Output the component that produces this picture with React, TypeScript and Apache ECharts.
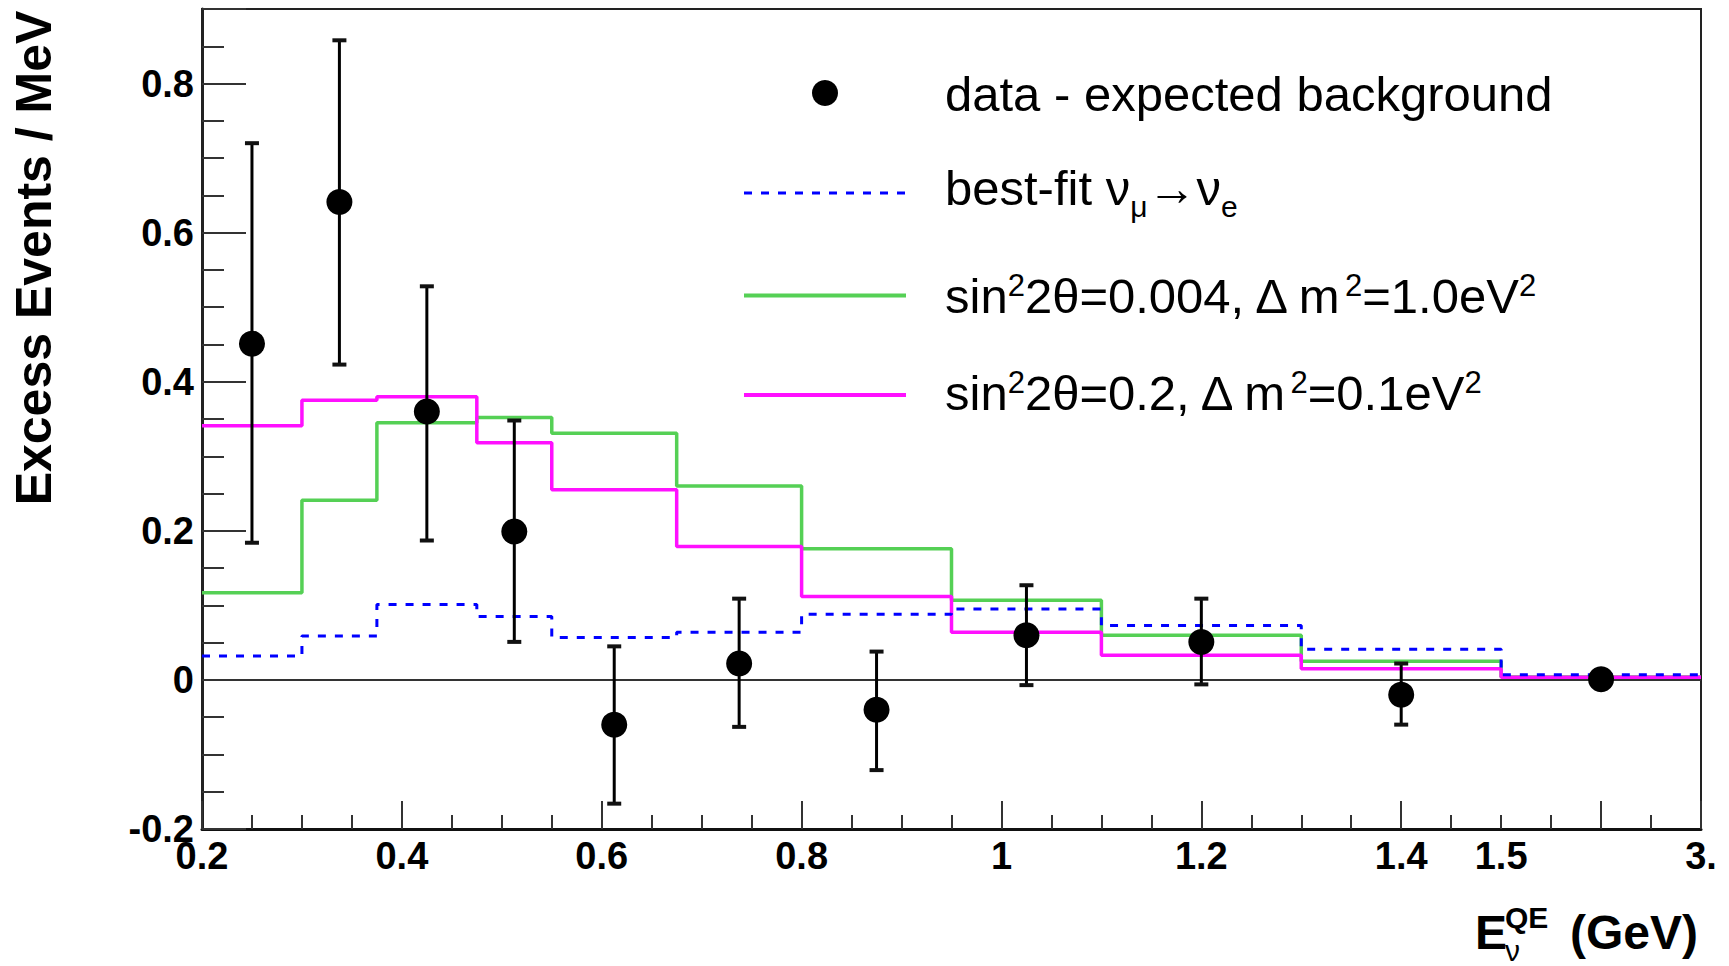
import React, { useEffect, useRef } from "react";
import * as echarts from "echarts";

// ---------- data (energies in GeV, values in Excess Events / MeV) ----------
const binEdgesGeV = [0.2, 0.3, 0.375, 0.475, 0.55, 0.675, 0.8, 0.95, 1.1, 1.3, 1.5, 3.0];
const bestFitValues = [0.032, 0.059, 0.101, 0.085, 0.057, 0.064, 0.088, 0.095, 0.073, 0.041, 0.007];
const lowDm2Values = [0.117, 0.241, 0.345, 0.352, 0.331, 0.26, 0.176, 0.107, 0.06, 0.025, 0.004];
const highMixValues = [0.341, 0.375, 0.38, 0.318, 0.255, 0.179, 0.112, 0.064, 0.033, 0.015, 0.0035];

const pointEnergyGeV = [0.25, 0.3375, 0.425, 0.5125, 0.6125, 0.7375, 0.875, 1.025, 1.2, 1.4, 2.25];
const pointValues = [0.451, 0.641, 0.36, 0.199, -0.06, 0.022, -0.04, 0.06, 0.051, -0.02, 0.001];
const errLow = [0.184, 0.423, 0.187, 0.051, -0.166, -0.063, -0.121, -0.007, -0.006, -0.06, -0.004];
const errHigh = [0.72, 0.858, 0.528, 0.348, 0.045, 0.109, 0.038, 0.127, 0.109, 0.022, 0.006];

const xTickGeV = [0.2, 0.4, 0.6, 0.8, 1.0, 1.2, 1.4, 1.5, 3.0];
const xTickText = ["0.2", "0.4", "0.6", "0.8", "1", "1.2", "1.4", "1.5", "3."];

// axis scale: linear up to 1.5 GeV, the 1.5-3.0 GeV bin compressed
const AXIS_BREAK = 1.5;
const TAIL_SCALE = 0.2 / 1.5;
const toAxis = (g: number) => (g <= AXIS_BREAK ? g : AXIS_BREAK + (g - AXIS_BREAK) * TAIL_SCALE);

const FONT = "Liberation Sans";

const stepData = (vals: number[]) =>
  binEdgesGeV.map((e, i) => [toAxis(e), vals[Math.min(i, vals.length - 1)]]);

export default function App() {
  const ref = useRef<HTMLDivElement>(null);

  useEffect(() => {
    if (!ref.current) return;
    const chart = echarts.init(ref.current, undefined, { renderer: "svg" });
    const tickLine = { color: "#333", width: 2 };

    const option: any = {
      animation: false,
      textStyle: { fontFamily: FONT },
      grid: {
        left: 202,
        top: 9,
        right: 28,
        bottom: 137,
        show: true,
        borderColor: "#222",
        borderWidth: 2,
        backgroundColor: "transparent",
      },
      xAxis: [
        {
          type: "value",
          position: "bottom",
          min: toAxis(binEdgesGeV[0]),
          max: toAxis(binEdgesGeV[binEdgesGeV.length - 1]),
          interval: 0.2,
          axisLine: { show: true, onZero: false, lineStyle: { color: "#111", width: 3 } },
          axisTick: { show: true, inside: true, length: 28, lineStyle: tickLine },
          axisLabel: { show: false },
          splitLine: { show: false },
        },
        {
          type: "value",
          position: "bottom",
          min: toAxis(binEdgesGeV[0]),
          max: toAxis(binEdgesGeV[binEdgesGeV.length - 1]),
          interval: 0.05,
          axisLine: { show: false, onZero: false },
          axisTick: { show: true, inside: true, length: 14, lineStyle: tickLine },
          axisLabel: {
            show: true,
            margin: 8,
            fontFamily: FONT,
            fontSize: 38,
            fontWeight: "bold",
            color: "#000",
            formatter: (v: number) => {
              const i = xTickGeV.findIndex((g) => Math.abs(toAxis(g) - v) < 1e-6);
              return i >= 0 ? xTickText[i] : "";
            },
          },
          splitLine: { show: false },
        },
      ],
      yAxis: [
        {
          type: "value",
          position: "left",
          min: -0.2,
          max: 0.9,
          interval: 0.2,
          axisLine: { show: true, onZero: false, lineStyle: { color: "#222", width: 3 } },
          axisTick: { show: true, inside: true, length: 44, lineStyle: tickLine },
          axisLabel: {
            show: true,
            margin: 8,
            fontFamily: FONT,
            fontSize: 38,
            fontWeight: "bold",
            color: "#000",
            formatter: (v: number) => (v > 0.85 ? "" : String(Number(v.toFixed(2)))),
          },
          splitLine: { show: false },
        },
        {
          type: "value",
          position: "left",
          min: -0.2,
          max: 0.9,
          interval: 0.05,
          axisLine: { show: false, onZero: false },
          axisTick: { show: true, inside: true, length: 22, lineStyle: tickLine },
          axisLabel: { show: false },
          splitLine: { show: false },
        },
      ],
      series: [
        {
          name: "sin²2θ=0.004, Δ m²=1.0eV²",
          type: "line",
          step: "end",
          symbol: "none",
          data: stepData(lowDm2Values),
          lineStyle: { color: "#55d055", width: 3.5 },
          z: 2,
          markLine: {
            silent: true,
            symbol: ["none", "none"],
            label: { show: false },
            lineStyle: { color: "#333", width: 2, type: "solid" },
            data: [{ yAxis: 0 }],
          },
        },
        {
          name: "sin²2θ=0.2, Δ m²=0.1eV²",
          type: "line",
          step: "end",
          symbol: "none",
          data: stepData(highMixValues),
          lineStyle: { color: "#ff10ff", width: 3.5 },
          z: 3,
        },
        {
          name: "best-fit νμ→νe",
          type: "line",
          step: "end",
          symbol: "none",
          data: stepData(bestFitValues),
          lineStyle: { color: "#0000ff", width: 3, type: [8, 9] },
          z: 4,
        },
        {
          name: "errors",
          type: "custom",
          z: 5,
          data: pointEnergyGeV.map((g, i) => [toAxis(g), errLow[i], errHigh[i]]),
          encode: { x: 0, y: [1, 2] },
          renderItem: (params: any, api: any) => {
            const x = api.value(0);
            const pLo = api.coord([x, api.value(1)]);
            const pHi = api.coord([x, api.value(2)]);
            const cap = 7;
            return {
              type: "group",
              children: [
                {
                  type: "line",
                  shape: { x1: pLo[0], y1: pLo[1], x2: pHi[0], y2: pHi[1] },
                  style: { stroke: "#000", lineWidth: 3 },
                },
                {
                  type: "line",
                  shape: { x1: pLo[0] - cap, y1: pLo[1], x2: pLo[0] + cap, y2: pLo[1] },
                  style: { stroke: "#111", lineWidth: 4 },
                },
                {
                  type: "line",
                  shape: { x1: pHi[0] - cap, y1: pHi[1], x2: pHi[0] + cap, y2: pHi[1] },
                  style: { stroke: "#111", lineWidth: 4 },
                },
              ],
            };
          },
        },
        {
          name: "data - expected background",
          type: "scatter",
          z: 6,
          symbol: "circle",
          symbolSize: 26,
          itemStyle: { color: "#000", opacity: 1 },
          data: pointEnergyGeV.map((g, i) => [toAxis(g), pointValues[i]]),
        },
      ],
      graphic: [
        // y-axis title
        {
          type: "text",
          x: 34,
          y: 258,
          rotation: Math.PI / 2,
          style: {
            text: "Excess Events / MeV",
            fontFamily: FONT,
            fontSize: 50,
            fontWeight: "bold",
            fill: "#000",
            align: "center",
            verticalAlign: "middle",
            textAlign: "center",
            textVerticalAlign: "middle",
          },
        },
        // x-axis title
        {
          type: "text",
          x: 1475,
          y: 932,
          style: {
            text: "E",
            fontFamily: FONT,
            fontSize: 48,
            fontWeight: "bold",
            fill: "#000",
            align: "left",
            verticalAlign: "middle",
            textAlign: "left",
            textVerticalAlign: "middle",
          },
        },
        {
          type: "text",
          x: 1505,
          y: 917,
          style: {
            text: "QE",
            fontFamily: FONT,
            fontSize: 30,
            fontWeight: "bold",
            fill: "#000",
            align: "left",
            verticalAlign: "middle",
            textAlign: "left",
            textVerticalAlign: "middle",
          },
        },
        {
          type: "text",
          x: 1505,
          y: 950,
          style: {
            text: "ν",
            fontFamily: FONT,
            fontSize: 30,
            fill: "#000",
            align: "left",
            verticalAlign: "middle",
            textAlign: "left",
            textVerticalAlign: "middle",
          },
        },
        {
          type: "text",
          x: 1698,
          y: 932,
          style: {
            text: "(GeV)",
            fontFamily: FONT,
            fontSize: 48,
            fontWeight: "bold",
            fill: "#000",
            align: "right",
            verticalAlign: "middle",
            textAlign: "right",
            textVerticalAlign: "middle",
          },
        },
        // legend
        { type: "circle", shape: { cx: 825, cy: 93, r: 13 }, style: { fill: "#000" } },
        {
          type: "line",
          shape: { x1: 744, y1: 193, x2: 906, y2: 193 },
          style: { stroke: "#0000ff", lineWidth: 3, lineDash: [8, 9] },
        },
        {
          type: "line",
          shape: { x1: 744, y1: 295.5, x2: 906, y2: 295.5 },
          style: { stroke: "#55d055", lineWidth: 4 },
        },
        {
          type: "line",
          shape: { x1: 744, y1: 395, x2: 906, y2: 395 },
          style: { stroke: "#ff10ff", lineWidth: 4 },
        },
        {
          type: "text",
          x: 945,
          y: 94,
          style: {
            text: "data - expected background",
            fontFamily: FONT,
            fontSize: 49,
            fill: "#000",
            align: "left",
            verticalAlign: "middle",
            textAlign: "left",
            textVerticalAlign: "middle",
          },
        },
        {
          type: "text",
          x: 945,
          y: 188,
          style: {
            text: "{m|best-fit ν}{s|μ}{m|→ν}{s|e}",
            fill: "#000",
            align: "left",
            verticalAlign: "middle",
            textAlign: "left",
            textVerticalAlign: "middle",
            rich: {
              m: { fontFamily: FONT, fontSize: 49, lineHeight: 66, fill: "#000" },
              s: { fontFamily: FONT, fontSize: 30, fill: "#000", verticalAlign: "bottom" },
            },
          },
        },
        {
          type: "text",
          x: 945,
          y: 296,
          style: {
            text: "{m|sin}{p|2}{m|2θ=0.004, Δ m}{p|2}{m|=1.0eV}{p|2}",
            fill: "#000",
            align: "left",
            verticalAlign: "middle",
            textAlign: "left",
            textVerticalAlign: "middle",
            rich: {
              m: { fontFamily: FONT, fontSize: 49, lineHeight: 52, fill: "#000" },
              p: { fontFamily: FONT, fontSize: 31, fill: "#000", verticalAlign: "top" },
            },
          },
        },
        {
          type: "text",
          x: 945,
          y: 393,
          style: {
            text: "{m|sin}{p|2}{m|2θ=0.2, Δ m}{p|2}{m|=0.1eV}{p|2}",
            fill: "#000",
            align: "left",
            verticalAlign: "middle",
            textAlign: "left",
            textVerticalAlign: "middle",
            rich: {
              m: { fontFamily: FONT, fontSize: 49, lineHeight: 52, fill: "#000" },
              p: { fontFamily: FONT, fontSize: 31, fill: "#000", verticalAlign: "top" },
            },
          },
        },
      ],
    };

    chart.setOption(option);
    return () => chart.dispose();
  }, []);

  return (
    <div
      ref={ref}
      style={{ position: "fixed", left: 0, top: 0, width: 1729, height: 966, background: "#fff" }}
    />
  );
}
